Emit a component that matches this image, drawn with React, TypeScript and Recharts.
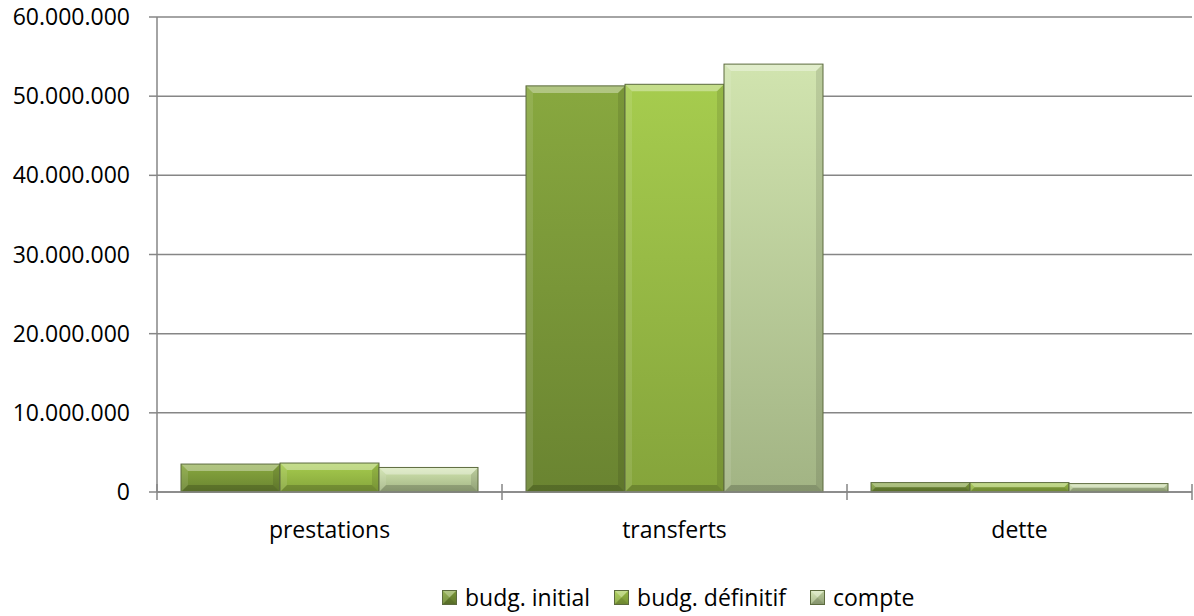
import { Bar, BarChart, CartesianGrid, Legend, XAxis, YAxis } from 'recharts';

const categories = ['prestations', 'transferts', 'dette'];
const budgInitial = [3530000, 51300000, 1190000];
const budgDefinitif = [3660000, 51500000, 1190000];
const compte = [3100000, 54050000, 1060000];
const yTicks = [0, 10000000, 20000000, 30000000, 40000000, 50000000, 60000000];

const data = categories.map((name, i) => ({
  name,
  initial: budgInitial[i],
  definitif: budgDefinitif[i],
  compte: compte[i],
}));

const FONT = '"Open Sans", sans-serif';
const AXIS = '#868686';

const series = [
  { key: 'initial', label: 'budg. initial', top: '#88a83f', bottom: '#6a8431' },
  { key: 'definitif', label: 'budg. définitif', top: '#a6cc4e', bottom: '#85a43b' },
  { key: 'compte', label: 'compte', top: '#d1e4af', bottom: '#a2b484' },
];

const fmt = (v: number) => String(v).replace(/\B(?=(\d{3})+(?!\d))/g, '.');

function BevelBar(props: any) {
  const { x, y, width: w, height: h, fill } = props;
  if (!w || !h || h <= 0) return null;
  const b = Math.min(7, h / 2, w / 2);
  return (
    <g>
      <rect x={x} y={y} width={w} height={h} fill={fill} />
      <polygon points={`${x},${y} ${x + w},${y} ${x + w - b},${y + b} ${x + b},${y + b}`} fill="#fff" fillOpacity={0.35} />
      <polygon points={`${x},${y} ${x + b},${y + b} ${x + b},${y + h - b} ${x},${y + h}`} fill="#fff" fillOpacity={0.1} />
      <polygon points={`${x + w},${y} ${x + w},${y + h} ${x + w - b},${y + h - b} ${x + w - b},${y + b}`} fill="#000" fillOpacity={0.1} />
      <polygon points={`${x},${y + h} ${x + w},${y + h} ${x + w - b},${y + h - b} ${x + b},${y + h - b}`} fill="#000" fillOpacity={0.18} />
      <rect x={x} y={y} width={w} height={h} fill="none" stroke="#5c6b3e" strokeWidth={1} />
    </g>
  );
}

function CatTick(props: any) {
  const { x, y, payload, index } = props;
  const half = payload?.offset ?? 0;
  const last = index === categories.length - 1;
  return (
    <g>
      <line x1={x - half} x2={x - half} y1={y - 8} y2={y + 8} stroke={AXIS} strokeWidth={1.5} />
      {last && <line x1={x + half} x2={x + half} y1={y - 8} y2={y + 8} stroke={AXIS} strokeWidth={1.5} />}
      <text x={x} y={y + 46} textAnchor="middle" fontFamily={FONT} fontSize={23} fill="#000">
        {payload.value}
      </text>
    </g>
  );
}

function LegendContent() {
  return (
    <div style={{ display: 'flex', alignItems: 'center', paddingTop: 5, fontFamily: FONT, fontSize: 23, color: '#000' }}>
      {series.map((s) => (
        <div key={s.key} style={{ display: 'flex', alignItems: 'center', marginRight: 24 }}>
          <svg width={15} height={15} style={{ marginRight: 8 }}>
            <BevelBar x={0.5} y={0.5} width={14} height={14} fill={`url(#g-${s.key})`} />
          </svg>
          <span>{s.label}</span>
        </div>
      ))}
    </div>
  );
}

export default function App() {
  return (
    <div style={{ position: 'absolute', left: 0, top: 0, background: '#fff' }}>
      <BarChart
        width={1194}
        height={616}
        data={data}
        margin={{ top: 17, right: 2, left: 0, bottom: 0 }}
        barCategoryGap={24}
        barGap={0}
      >
        <defs>
          {series.map((s) => (
            <linearGradient key={s.key} id={`g-${s.key}`} x1="0" y1="0" x2="0" y2="1">
              <stop offset="0%" stopColor={s.top} />
              <stop offset="100%" stopColor={s.bottom} />
            </linearGradient>
          ))}
        </defs>
        <CartesianGrid vertical={false} stroke={AXIS} strokeWidth={1.5} />
        <XAxis
          dataKey="name"
          height={84}
          axisLine={{ stroke: AXIS, strokeWidth: 1.5 }}
          tickLine={false}
          tickSize={0}
          tickMargin={0}
          interval={0}
          tick={<CatTick />}
        />
        <YAxis
          width={157}
          domain={[0, 60000000]}
          ticks={yTicks}
          tickFormatter={fmt}
          axisLine={{ stroke: AXIS, strokeWidth: 1.5 }}
          tickLine={{ stroke: AXIS, strokeWidth: 1.5 }}
          tickSize={8}
          tickMargin={19}
          tick={{ fontFamily: FONT, fontSize: 23, fill: '#000' }}
        />
        <Legend
          verticalAlign="bottom"
          height={40}
          content={<LegendContent />}
          wrapperStyle={{ left: 442, width: 'auto' }}
        />
        {series.map((s) => (
          <Bar
            key={s.key}
            dataKey={s.key}
            name={s.label}
            fill={`url(#g-${s.key})`}
            shape={<BevelBar />}
            isAnimationActive={false}
          />
        ))}
      </BarChart>
    </div>
  );
}
